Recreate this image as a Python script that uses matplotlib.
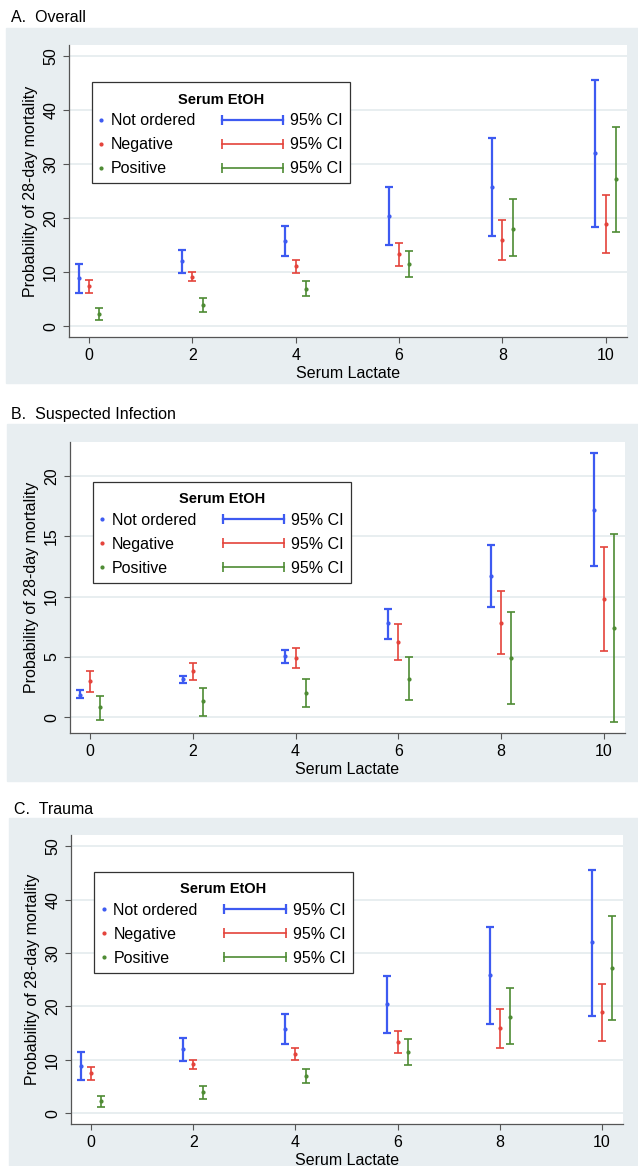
import numpy as np
import matplotlib
matplotlib.use("Agg")
import matplotlib.pyplot as plt
from matplotlib.lines import Line2D
from matplotlib.patches import Rectangle
from matplotlib.legend_handler import HandlerBase
from matplotlib.offsetbox import PaddedBox

plt.rcParams['font.family'] = ['Liberation Sans', 'DejaVu Sans']

lactate = np.array([0, 2, 4, 6, 8, 10])
groups = ['Not ordered', 'Negative', 'Positive']
colors = ['#3d5af1', '#e4433b', '#4e8b33']
widths = [1.6, 1.2, 1.2]
offsets = [-0.2, 0.0, 0.2]

# A. Overall: estimate, lower, upper (per group)
overall_est = [[8.9, 12.0, 15.8, 20.4, 25.8, 32.0],
               [7.5, 9.2, 11.1, 13.3, 16.0, 18.9],
               [2.3, 4.0, 6.9, 11.5, 18.1, 27.2]]
overall_lo = [[6.2, 9.8, 13.0, 15.1, 16.7, 18.3],
              [6.2, 8.3, 9.9, 11.2, 12.3, 13.5],
              [1.1, 2.7, 5.6, 9.1, 13.0, 17.4]]
overall_hi = [[11.5, 14.1, 18.6, 25.7, 34.9, 45.6],
              [8.6, 10.0, 12.2, 15.5, 19.6, 24.3],
              [3.3, 5.2, 8.3, 13.9, 23.5, 36.9]]

# B. Suspected infection
infection_est = [[1.87, 3.14, 5.04, 7.82, 11.7, 17.2],
                 [3.03, 3.86, 4.9, 6.23, 7.85, 9.78],
                 [0.83, 1.32, 2.0, 3.2, 4.9, 7.38]]
infection_lo = [[1.6, 2.81, 4.49, 6.5, 9.1, 12.5],
                [2.09, 3.09, 4.08, 4.71, 5.23, 5.5],
                [-0.19, 0.08, 0.88, 1.4, 1.1, -0.41]]
infection_hi = [[2.23, 3.44, 5.54, 9.0, 14.3, 21.9],
                [3.83, 4.52, 5.7, 7.71, 10.5, 14.1],
                [1.79, 2.4, 3.2, 4.99, 8.7, 15.2]]

# C. Trauma (same figures as overall in the source)
trauma_est = overall_est
trauma_lo = overall_lo
trauma_hi = overall_hi

W, H = 638, 1166
fig = plt.figure(figsize=(W / 100, H / 100), dpi=100)
bg = '#e8eef1'


class HandlerCI(HandlerBase):
    def create_artists(self, legend, orig_handle, xdescent, ydescent,
                       width, height, fontsize, trans):
        y = height / 2 - ydescent
        x1 = width - xdescent
        x0 = x1 - 44
        ln = Line2D([x0, x1], [y, y], color=orig_handle.get_color(),
                    lw=orig_handle.get_linewidth(), marker='|',
                    markersize=7, markeredgewidth=orig_handle.get_linewidth())
        ln.set_transform(trans)
        return [ln]


def panel(ax_rect, bg_rect, title, title_xy, est, lo, hi, ylim, yticks, leg_xy):
    fig.patches.append(Rectangle((bg_rect[0] / W, 1 - bg_rect[3] / H),
                                 (bg_rect[2] - bg_rect[0]) / W,
                                 (bg_rect[3] - bg_rect[1]) / H,
                                 transform=fig.transFigure, color=bg, zorder=-10))
    fig.text(title_xy[0] / W, 1 - title_xy[1] / H, title, fontsize=11.5,
             va='center', ha='left')
    l, t, r, b = ax_rect
    ax = fig.add_axes([l / W, 1 - b / H, (r - l) / W, (b - t) / H])
    ax.set_facecolor('white')
    for g in range(3):
        e = np.array(est[g])
        yerr = [e - np.array(lo[g]), np.array(hi[g]) - e]
        ax.errorbar(lactate + offsets[g], e, yerr=yerr, fmt='o', ms=2.0,
                    color=colors[g], ecolor=colors[g], elinewidth=widths[g],
                    capsize=2.9, capthick=widths[g], zorder=3)
    ax.set_xlim(-0.39, 10.41)
    ax.set_ylim(*ylim)
    ax.set_xticks(lactate)
    ax.set_yticks(yticks)
    ax.grid(axis='y', color='#e4ebee', lw=1.2)
    ax.set_axisbelow(True)
    for s in ['top', 'right']:
        ax.spines[s].set_visible(False)
    for s in ['left', 'bottom']:
        ax.spines[s].set_color('#555555')
        ax.spines[s].set_linewidth(0.9)
    ax.tick_params(length=4.3, width=0.8, color='#555555', labelsize=11.5, pad=3.5)
    for lab in ax.get_yticklabels():
        lab.set_rotation(90)
        lab.set_va('center')
    ax.set_xlabel('Serum Lactate', fontsize=11.5, labelpad=2)
    ax.set_ylabel('Probability of 28-day mortality', fontsize=11.5, labelpad=4)

    dots = [Line2D([], [], ls='', marker='o', ms=2.0, color=c) for c in colors]
    cis = [Line2D([], [], color=c, lw=w) for c, w in zip(colors, widths)]
    hmap = {h: HandlerCI() for h in cis}
    leg = ax.legend(dots + cis, groups + ['95% CI'] * 3, ncol=2,
                    loc='upper left', bbox_to_anchor=leg_xy, borderaxespad=0,
                    handler_map=hmap, handlelength=0.3, handletextpad=0.45,
                    columnspacing=5.2, labelspacing=0.56, borderpad=0.45,
                    fontsize=11.5, title='Serum EtOH',
                    title_fontproperties={'weight': 'bold', 'size': 10.5},
                    fancybox=False, framealpha=1, edgecolor='#333333')
    leg.get_frame().set_linewidth(0.9)
    leg.set_zorder(5)
    # a bit more room above the legend title, less below it
    box = leg._legend_box
    pb = PaddedBox(leg._legend_title_box, pad=2.5, draw_frame=False)
    box._children[0] = pb
    box.sep = 2.2
    return ax


panel((69, 45, 627, 337), (6, 28, 638, 383), 'A.  Overall', (11, 18),
      overall_est, overall_lo, overall_hi, (-2.0, 52.1), range(0, 51, 10),
      (0.041, 0.873))
panel((70, 442, 625, 733), (7, 424, 638, 781), 'B.  Suspected Infection', (11, 415),
      infection_est, infection_lo, infection_hi, (-1.3, 22.8), range(0, 21, 5),
      (0.041, 0.864))
panel((71, 835, 623, 1124), (9, 818, 638, 1166), 'C.  Trauma', (14, 809),
      trauma_est, trauma_lo, trauma_hi, (-2.0, 52.1), range(0, 51, 10),
      (0.042, 0.873))

fig.savefig('out.png', dpi=100)
